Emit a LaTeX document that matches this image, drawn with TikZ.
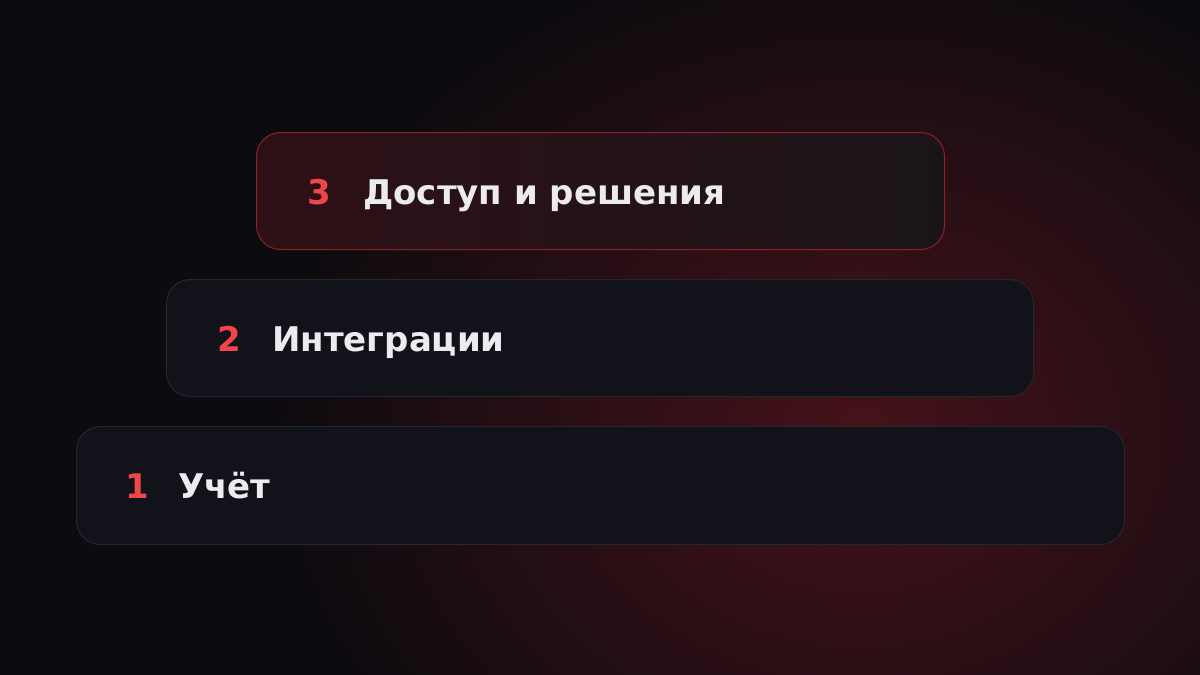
\documentclass[tikz,border=0pt]{standalone}
\usepackage{fontspec}
\setmainfont{DejaVu Sans}
\begin{document}
\begin{tikzpicture}[x=1pt,y=-1pt,
  bar/.style={draw=barline,line width=1pt,rounded corners=24pt,fill=barfill,anchor=north west,inner sep=0pt},
  num/.style={anchor=base west,inner sep=0pt,text=numred,font=\fontsize{34}{40}\selectfont\bfseries},
  lbl/.style={anchor=base west,inner sep=0pt,text=lbltext,font=\fontsize{34}{40}\selectfont\bfseries}]
\definecolor{bg}{HTML}{0C0B0F}
\definecolor{glow}{HTML}{46121A}
\definecolor{barfill}{HTML}{12131A}
\definecolor{barline}{HTML}{26262D}
\definecolor{topline}{HTML}{8A2228}
\definecolor{topleft}{HTML}{2E1016}
\definecolor{topright}{HTML}{1A1419}
\definecolor{numred}{HTML}{F0464A}
\definecolor{lbltext}{HTML}{ECECF0}
\useasboundingbox (0,0) rectangle (1200,675);
\fill[bg] (0,0) rectangle (1200,675);
\begin{scope}
\clip (0,0) rectangle (1200,675);
\shade[inner color=glow,outer color=bg] (860,430) ellipse (600 and 500);
\end{scope}
% bars
\node[bar,minimum width=1048pt,minimum height=118pt] (b1) at (76,426) {};
\node[bar,minimum width=867pt,minimum height=117pt] (b2) at (166,279) {};
\node[bar,draw=topline,left color=topleft,right color=topright,minimum width=688pt,minimum height=117pt] (b3) at (256,132) {};
% texts
\node[num] (n3) at (307,204) {3};
\node[lbl] (t3) at (363,204) {Доступ и решения};
\node[num] (n2) at (217,351) {2};
\node[lbl] (t2) at (272,351) {Интеграции};
\node[num] (n1) at (125,498.5) {1};
\node[lbl] (t1) at (178,498.5) {Учёт};
\end{tikzpicture}
\end{document}
